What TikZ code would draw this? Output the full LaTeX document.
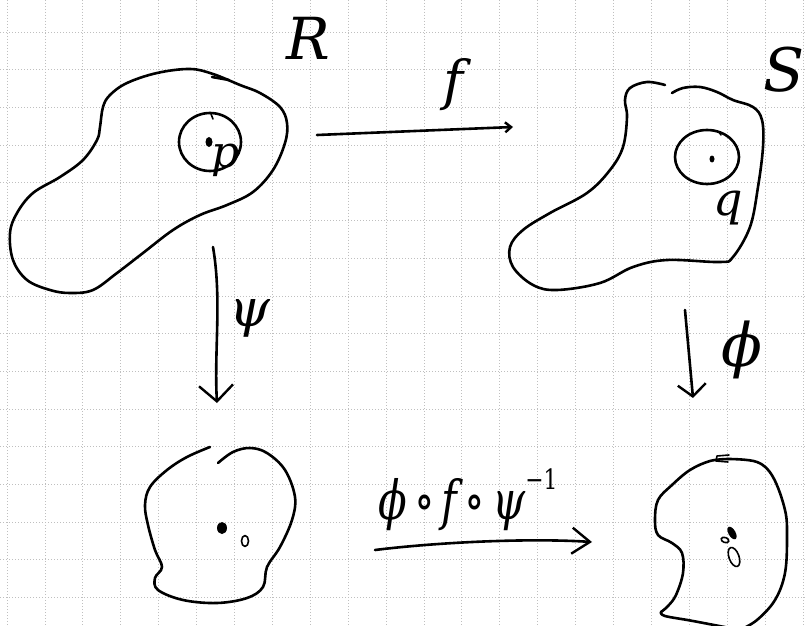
\documentclass[tikz,border=0pt]{standalone}
\usepackage{fontspec}
\newfontfamily\hand{DejaVu Serif}
\usepackage{graphicx}
\usetikzlibrary{arrows.meta}
\tikzset{
  gridline/.style={gray!50, line width=0.7pt, dash pattern=on 1.2pt off 1.8pt},
  pen/.style={line width=2.6pt, line cap=round, line join=round, black},
  thinpen/.style={line width=1.6pt, line cap=round, line join=round, black},
  lbl/.style={inner sep=0pt, anchor=center, black, font=\hand\itshape},
}
\newcommand{\fs}[1]{\fontsize{#1}{#1}\selectfont}
\begin{document}
\begin{tikzpicture}[x=1pt,y=-1pt]
\useasboundingbox (0,0) rectangle (807,626);
\fill[white] (0,0) rectangle (807,626);
% grid
\foreach \k in {0,...,21} \draw[gridline] ({7+37.9*\k},0) -- ++(0,626);
\foreach \k in {0,...,15} \draw[gridline] (0,{32+37.7*\k}) -- ++(807,0);

% ---------- blob R ----------
\draw[pen] plot[smooth cycle, tension=0.6] coordinates {
 (190,69) (213,74) (240,85) (260,93) (280,107) (287,123) (285,143) (273,170)
 (253,192) (227,205) (200,215) (173,230) (143,253) (117,273) (93,290) (70,293)
 (50,290) (27,280) (13,260) (10,233) (17,213) (33,193) (60,177) (83,160)
 (97,140) (100,127) (103,107) (110,95) (127,83) (157,73)};
\draw[pen] (212,77) -- (229,80);
\draw[pen] (210,142) ellipse [x radius=31, y radius=29];
\draw[thinpen] (211,114) -- (213,119);
\fill (209,142) ellipse [x radius=3.5, y radius=5];
\node[lbl] (p) at (226,160) {\fs{44}p};
\node[lbl] (R) at (308,38) {\fs{58}R};

% ---------- blob S ----------
\draw[pen] plot[smooth, tension=0.6] coordinates {
 (665,85) (647,82) (630,88) (625,100) (627,117) (623,147) (610,170) (587,193)
 (550,213) (523,230) (510,247) (513,267) (533,285) (557,290) (600,283)
 (633,267) (667,260) (720,262) (733,257) (750,227) (758,187) (763,147)
 (762,120) (753,107) (733,100) (717,92) (700,87) (683,88) (672,93)};
\draw[pen] (707,157) ellipse [x radius=32, y radius=27];
\draw[thinpen] (719,132) -- (721,135);
\fill (712,159) ellipse [x radius=2.5, y radius=3.5];
\node[lbl] (q) at (728,208) {\fs{46}q};
\node[lbl] (S) at (784,70) {\fs{60}S};

% ---------- blob bottom-left ----------
\draw[pen] plot[smooth, tension=0.6] coordinates {
 (210,447) (187,457) (167,470) (150,487) (145,505) (148,525) (155,550)
 (162,567) (155,578) (158,590) (183,600) (217,603) (247,598) (263,587)
 (267,567) (280,547) (292,520) (295,497) (285,470) (267,453) (250,448)
 (233,452) (218,463)};
\fill (222,528) ellipse [x radius=5, y radius=6];
\draw[thinpen] (245,541) ellipse [x radius=3.5, y radius=5.5];

% ---------- blob bottom-right ----------
\draw[pen] plot[smooth, tension=0.6] coordinates {
 (728,459) (757,462) (773,477) (785,510) (787,537) (785,573) (775,600)
 (757,620) (740,630)};
\draw[pen] plot[smooth, tension=0.6] coordinates {
 (740,630) (693,621) (665,616) (661,612)};
\draw[pen] plot[smooth, tension=0.6] coordinates {
 (661,612) (668,606) (676,595) (683,573) (682,553) (672,543) (658,535)
 (655,520) (658,500) (672,485) (690,470) (710,461) (728,459)};
\draw[thinpen] (729,455) -- (717,456) -- (716,461) -- (728,462);
\fill[rotate around={30:(732,533)}] (732,533) ellipse [x radius=3.5, y radius=7];
\draw[thinpen, rotate around={-20:(725,540)}] (725,540) ellipse [x radius=4, y radius=2.5];
\draw[thinpen, rotate around={20:(734,557)}] (734,557) ellipse [x radius=5, y radius=10];

% ---------- arrows ----------
\coordinate (fa) at (317,135);
\coordinate (fb) at (513,127);
\draw[pen, -{Straight Barb[length=6pt,width=10pt,line width=2.4pt]}] (fa) -- (fb);
\node[lbl] (f) at (453,85) {\fs{54}f};

\coordinate (pa) at (213,247);
\coordinate (pb) at (217,403);
\draw[pen, -{Straight Barb[length=16pt,width=34pt,line width=2.4pt]}]
  (pa) .. controls (222,300) and (214,350) .. (pb);
\node[lbl] (psi) at (250,318) {\fs{52}ψ};

\coordinate (qa) at (685,310);
\coordinate (qb) at (693,398);
\draw[pen, -{Straight Barb[length=12pt,width=28pt,line width=2.4pt]}] (qa) -- (qb);
\node[lbl] (phi) at (742,350) {\fs{60}ϕ};

\coordinate (ba) at (375,550);
\coordinate (bb) at (592,542);
\draw[pen, -{Straight Barb[length=18pt,width=26pt,line width=2.4pt]}]
  (ba) .. controls (440,542) and (530,538) .. (bb);
\node[lbl] (comp) at (468,500) {\scalebox{0.78}[1]{\fs{54}ϕ\,∘\,f\,∘\,ψ\raisebox{0.55em}{\fs{28}\upshape −1}}};
\end{tikzpicture}
\end{document}
